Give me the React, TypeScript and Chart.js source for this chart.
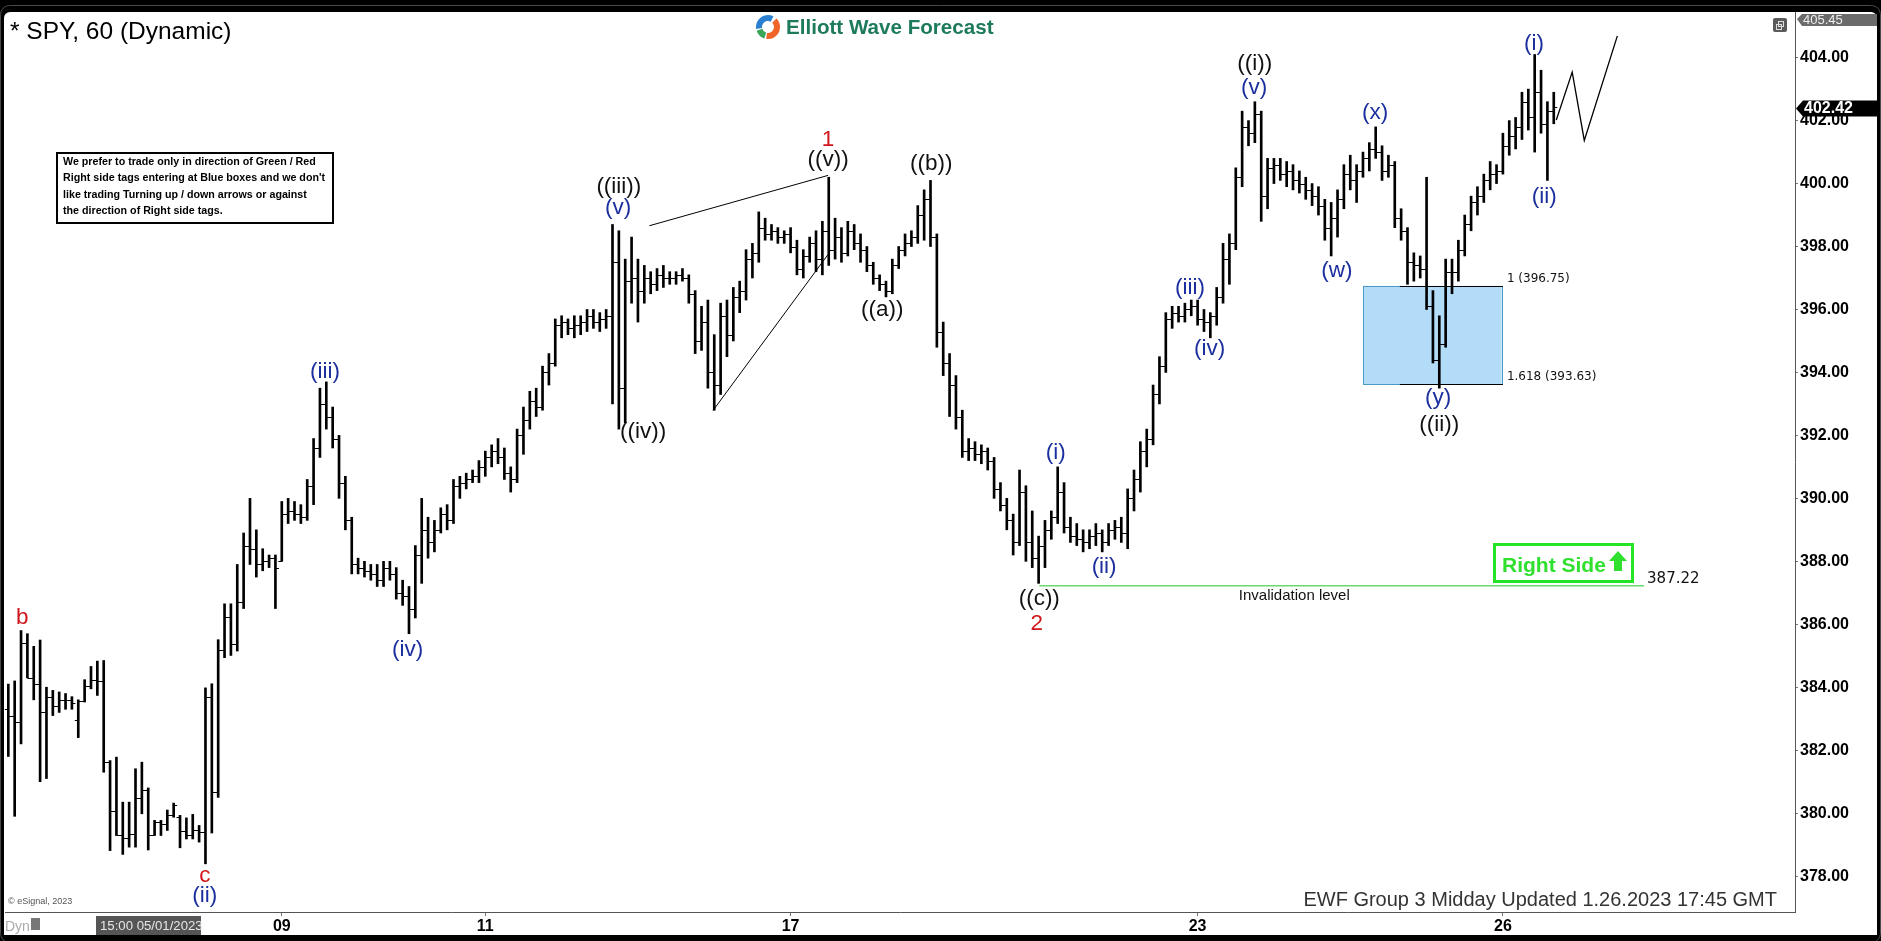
import React, { useEffect, useRef } from "react";
import { Chart, registerables } from "chart.js";

Chart.register(...registerables);

const W = 1881;
const H = 941;
const FONT = "'Liberation Sans', Arial, sans-serif";
const RED = "#d0161b";
const BLUE = "#1b2f9e";
const BLACK = "#111111";

// ---- axes ----
const dayTickBars = [43, 75, 123, 187, 235];
const dayTickLabels = ["09", "11", "17", "23", "26"];
const priceTicks = [378, 380, 382, 384, 386, 388, 390, 392, 394, 396, 398, 400, 402, 404];
const priceMin = 376.86;
const priceMax = 405.45;
const barMin = -0.52;
const barMax = 280.93;

// ---- 60 minute OHLC bars (Jan 4 .. Jan 26, 2023) ----
const opens = [
  383.3, 383.1, 382.9, 385.4, 384.3, 384.1, 383.2, 383.7, 383.4, 383.6, 383.6,
  382.95, 383.55, 384.03, 384.22, 384.19, 381.62, 380.06, 379.31, 379.22, 379.34, 380.49, 380.72, 379.31, 379.72, 379.65, 379.93,
  379.87, 379.42, 379.31, 379.47, 379.4, 383.69, 380.67, 385.19, 386.23, 385.38, 386.7, 388.5, 388.4, 387.9, 388.0, 388.1,
  388.0, 389.5, 389.6, 389.5, 389.4, 390.4, 391.6, 393.0, 392.6, 391.9, 390.5, 389.3, 387.9, 387.8, 387.7, 387.6,
  387.4, 387.8, 387.6, 387.0, 386.9, 386.5, 388.2, 389.0, 388.6, 389.0, 389.5, 389.3, 390.4, 390.5, 390.6, 390.7,
  391.0, 391.3, 391.5, 391.3, 390.8, 390.6, 392.0, 392.5, 393.1, 392.9, 394.0, 394.3, 395.5, 395.6, 395.4, 395.5,
  395.6, 395.8, 395.6, 395.7, 395.8, 397.5, 393.5, 396.9, 397.0, 396.6, 397.0, 396.8, 397.1, 397.0, 397.0, 397.1,
  397.0, 396.5, 395.0, 395.6, 394.0, 393.6, 395.8, 395.2, 396.4, 396.6, 397.6, 397.8, 398.6, 398.4, 398.5, 398.3,
  398.4, 398.0, 397.3, 397.7, 398.1, 397.6, 398.5, 397.9, 398.3, 397.8, 398.5, 398.1, 397.9, 397.4, 397.0, 396.8,
  396.6, 397.4, 397.9, 398.1, 398.3, 399.0, 399.5, 398.3, 395.3, 394.3, 393.6, 392.6, 391.5, 391.6, 391.4, 391.5,
  391.2, 390.3, 389.8, 389.3, 388.6, 390.2, 388.6, 388.1, 388.5, 389.0, 389.4, 390.2, 389.1, 388.8, 388.7, 388.6,
  388.8, 388.9, 388.6, 389.0, 389.1, 388.9, 390.0, 390.6, 391.5, 391.9, 393.3, 394.2, 395.7, 395.9, 395.8, 396.0,
  396.1, 395.7, 395.6, 395.8, 396.4, 397.6, 398.1, 400.2, 401.8, 401.6, 402.2, 399.6, 400.5, 400.6, 400.3, 400.4,
  400.1, 400.0, 399.8, 399.6, 399.3, 398.6, 398.9, 399.5, 400.3, 400.1, 400.4, 400.8, 401.1, 401.0, 400.4, 400.6,
  398.9, 398.5, 397.5, 397.4, 397.3, 396.1, 394.4, 394.9, 397.2, 397.2, 397.9, 398.7, 399.4, 399.6, 400.1, 400.3,
  400.4, 401.2, 401.5, 401.8, 402.6, 402.1, 402.9, 401.9, 402.3,
];
const highs = [
  384.1, 384.2, 385.8, 385.7, 385.3, 385.5, 384.0, 383.9, 383.85, 383.8, 383.7,
  383.6, 384.24, 384.66, 384.83, 384.85, 381.67, 381.78, 380.35, 380.35, 381.41, 381.62, 380.8, 379.77, 379.77, 380.1, 380.32,
  379.93, 379.85, 379.96, 379.61, 383.98, 384.11, 385.51, 386.65, 386.65, 387.9, 388.9, 390.0, 389.0, 388.4, 388.2, 388.2,
  389.9, 390.0, 389.9, 389.8, 390.6, 391.9, 393.5, 393.7, 392.9, 392.0, 390.7, 389.4, 388.1, 388.0, 387.9, 387.9,
  388.0, 388.0, 387.8, 387.4, 387.2, 388.5, 390.0, 389.4, 389.3, 389.7, 389.8, 390.6, 390.7, 390.8, 390.9, 391.2,
  391.5, 391.7, 391.9, 391.6, 391.0, 392.2, 392.9, 393.4, 393.5, 394.2, 394.6, 395.7, 395.8, 395.7, 395.8, 395.8,
  396.0, 396.0, 395.9, 396.0, 398.7, 398.5, 397.6, 398.3, 397.6, 397.4, 397.2, 397.3, 397.4, 397.2, 397.2, 397.3,
  397.1, 396.6, 396.1, 396.3, 395.2, 396.2, 396.3, 396.7, 396.9, 397.9, 398.1, 399.1, 398.9, 398.7, 398.6, 398.5,
  398.6, 398.2, 397.9, 398.3, 398.5, 398.8, 400.2, 398.9, 398.6, 398.8, 398.7, 398.4, 398.0, 397.5, 397.1, 396.9,
  397.6, 398.0, 398.4, 398.5, 399.3, 399.8, 400.1, 398.4, 395.6, 394.6, 393.9, 392.8, 391.9, 391.8, 391.7, 391.6,
  391.3, 390.5, 390.0, 389.5, 390.9, 390.4, 389.6, 388.8, 389.3, 389.6, 391.0, 390.5, 389.4, 389.2, 389.0, 389.0,
  389.2, 389.0, 389.2, 389.3, 389.4, 390.3, 390.9, 391.8, 392.2, 393.6, 394.5, 395.9, 396.1, 396.1, 396.2, 396.3,
  396.3, 396.0, 395.9, 396.7, 398.1, 398.4, 400.5, 402.3, 402.0, 402.6, 402.3, 400.8, 400.8, 400.8, 400.7, 400.6,
  400.4, 400.2, 400.0, 399.9, 399.5, 399.4, 399.8, 400.6, 400.9, 400.6, 401.0, 401.3, 401.8, 401.2, 400.9, 400.7,
  399.2, 398.6, 397.8, 397.7, 400.2, 396.6, 395.8, 397.6, 397.6, 398.2, 399.0, 399.6, 399.9, 400.3, 400.7, 400.6,
  401.6, 402.0, 402.1, 402.9, 403.0, 404.1, 403.6, 402.6, 402.9,
];
const lows = [
  381.8, 379.9, 382.2, 384.3, 383.6, 381.0, 381.1, 383.1, 383.2, 383.3, 383.3,
  382.4, 383.53, 383.95, 383.74, 381.3, 378.81, 379.29, 378.69, 378.92, 378.92, 379.98, 378.83, 379.29, 379.29, 379.45, 379.87,
  378.9, 379.18, 379.18, 379.08, 378.39, 379.37, 380.5, 384.94, 385.01, 385.15, 386.5, 387.9, 387.5, 387.7, 387.8, 386.5,
  388.0, 389.2, 389.3, 389.2, 389.3, 389.8, 391.3, 392.2, 391.6, 390.0, 389.0, 387.6, 387.6, 387.5, 387.4, 387.2,
  387.2, 387.4, 386.8, 386.6, 385.7, 386.2, 387.3, 388.1, 388.3, 388.9, 389.0, 389.2, 390.0, 390.3, 390.5, 390.5,
  390.7, 391.0, 391.1, 390.6, 390.2, 390.5, 391.4, 392.2, 392.6, 392.8, 393.6, 394.2, 395.1, 395.2, 395.1, 395.2,
  395.3, 395.4, 395.3, 395.4, 393.0, 392.2, 392.4, 396.2, 395.6, 396.2, 396.5, 396.6, 396.7, 396.8, 396.8, 396.9,
  396.2, 394.6, 394.7, 393.5, 392.8, 393.3, 394.5, 395.0, 395.9, 396.3, 397.0, 397.5, 398.2, 398.2, 398.1, 398.1,
  397.8, 397.1, 397.0, 397.5, 397.2, 397.1, 397.4, 397.6, 397.5, 397.7, 397.9, 397.5, 397.2, 396.8, 396.6, 396.4,
  396.5, 397.3, 397.7, 398.0, 398.1, 398.2, 398.0, 394.8, 393.9, 392.6, 392.2, 391.3, 391.2, 391.2, 391.1, 390.9,
  390.0, 389.6, 389.0, 388.2, 388.5, 388.0, 387.8, 387.3, 387.8, 388.7, 389.2, 388.9, 388.6, 388.5, 388.3, 388.4,
  388.5, 388.3, 388.5, 388.7, 388.6, 388.4, 389.6, 390.2, 391.0, 391.7, 393.0, 394.0, 395.4, 395.6, 395.6, 395.8,
  395.5, 395.3, 395.1, 395.5, 396.2, 396.8, 397.9, 399.9, 401.2, 401.3, 398.8, 399.2, 400.0, 400.1, 399.9, 399.8,
  399.7, 399.5, 399.3, 399.0, 398.2, 397.7, 398.3, 399.2, 399.8, 399.4, 400.2, 400.4, 400.8, 400.1, 400.2, 398.6,
  398.2, 396.8, 396.9, 397.0, 396.0, 394.3, 393.5, 394.8, 396.5, 396.9, 397.7, 398.5, 399.0, 399.4, 399.8, 400.0,
  400.3, 400.9, 401.1, 401.4, 401.7, 401.0, 401.6, 400.1, 401.9,
];
const closes = [
  383.1, 382.9, 385.4, 384.3, 384.1, 383.2, 383.7, 383.4, 383.6, 383.6, 383.5,
  383.55, 384.03, 384.22, 384.19, 381.62, 380.06, 379.31, 379.22, 379.34, 380.49, 380.72, 379.31, 379.72, 379.65, 379.93, 380.27,
  379.42, 379.31, 379.47, 379.4, 383.69, 380.67, 385.19, 386.23, 385.38, 386.7, 388.5, 388.4, 387.9, 388.0, 388.1, 387.8,
  389.5, 389.6, 389.5, 389.4, 390.4, 391.6, 393.0, 392.6, 391.9, 390.5, 389.3, 387.9, 387.8, 387.7, 387.6, 387.4,
  387.8, 387.6, 387.0, 386.9, 386.5, 388.2, 389.0, 388.6, 389.0, 389.5, 389.3, 390.4, 390.5, 390.6, 390.7, 391.0,
  391.3, 391.5, 391.3, 390.8, 390.6, 392.0, 392.5, 393.1, 392.9, 394.0, 394.3, 395.5, 395.6, 395.4, 395.5, 395.6,
  395.8, 395.6, 395.7, 395.8, 397.5, 393.5, 396.9, 397.0, 396.6, 397.0, 396.8, 397.1, 397.0, 397.0, 397.1, 397.0,
  396.5, 395.0, 395.6, 394.0, 393.6, 395.8, 395.2, 396.4, 396.6, 397.6, 397.8, 398.6, 398.4, 398.5, 398.3, 398.4,
  398.0, 397.3, 397.7, 398.1, 397.6, 398.5, 397.9, 398.3, 397.8, 398.5, 398.1, 397.9, 397.4, 397.0, 396.8, 396.6,
  397.4, 397.9, 398.1, 398.3, 399.0, 399.5, 398.3, 395.3, 394.3, 393.6, 392.6, 391.5, 391.6, 391.4, 391.5, 391.2,
  390.3, 389.8, 389.3, 388.6, 390.2, 388.6, 388.1, 388.5, 389.0, 389.4, 390.2, 389.1, 388.8, 388.7, 388.6, 388.8,
  388.9, 388.6, 389.0, 389.1, 388.9, 390.0, 390.6, 391.5, 391.9, 393.3, 394.2, 395.7, 395.9, 395.8, 396.0, 396.1,
  395.7, 395.6, 395.8, 396.4, 397.6, 398.1, 400.2, 401.8, 401.6, 402.2, 399.6, 400.5, 400.6, 400.3, 400.4, 400.1,
  400.0, 399.8, 399.6, 399.3, 398.6, 398.9, 399.5, 400.3, 400.1, 400.4, 400.8, 401.1, 401.0, 400.4, 400.6, 398.9,
  398.5, 397.5, 397.4, 397.3, 396.1, 394.4, 394.9, 397.2, 397.2, 397.9, 398.7, 399.4, 399.6, 400.1, 400.3, 400.4,
  401.2, 401.5, 401.8, 402.6, 402.1, 402.9, 401.9, 402.3, 402.42,
];

// ---- annotations (bar index, price) ----
const waveText = ["b", "c", "(ii)", "(iii)", "(iv)", "((iii))", "(v)", "((iv))", "1", "((v))", "((a))", "((b))", "(i)", "(ii)", "((c))", "2", "(iii)", "(iv)", "((i))", "(v)", "(w)", "(x)", "(y)", "((ii))", "(i)", "(ii)"];
const waveBar = [2.2, 30.9, 30.9, 49.8, 62.8, 96.0, 95.9, 99.8, 128.9, 128.9, 137.4, 145.1, 164.7, 172.3, 162.1, 161.7, 185.8, 188.9, 196.0, 195.9, 208.9, 214.9, 224.8, 225.0, 239.9, 241.5];
const wavePrice = [386.22, 378.02, 377.38, 394.01, 385.2, 399.89, 399.22, 392.1, 401.38, 400.75, 395.98, 400.62, 391.46, 387.84, 386.8, 386.03, 396.68, 394.74, 403.8, 403.03, 397.22, 402.24, 393.18, 392.35, 404.43, 399.57];
const waveColor = [RED, RED, BLUE, BLUE, BLUE, BLACK, BLUE, BLACK, RED, BLACK, BLACK, BLACK, BLUE, BLUE, BLACK, RED, BLUE, BLUE, BLACK, BLUE, BLUE, BLUE, BLUE, BLACK, BLUE, BLUE];

const projectionPath = [
  { x: 243.4, y: 402.02 },
  { x: 245.9, y: 403.54 },
  { x: 247.8, y: 401.37 },
  { x: 253.0, y: 404.69 },
];
const diagUpper = [
  { x: 100.8, y: 398.66 },
  { x: 128.9, y: 400.26 },
];
const diagLower = [
  { x: 110.8, y: 392.79 },
  { x: 128.9, y: 397.75 },
];
const invalidationPrice = 387.22;
const invalidationLine = [
  { x: 162.1, y: invalidationPrice },
  { x: 257.2, y: invalidationPrice },
];
const boxFromBar = 213.0;
const boxToBar = 234.8;
const fibFromBar = 218.8;
const fibToBar = 235.0;
const fib1 = 396.75;
const fib1618 = 393.63;
const lastPrice = 402.42;
const topPrice = 405.45;

const noteLines = [
  "We prefer to trade only in direction of Green / Red",
  "Right side tags entering at Blue boxes and we don't",
  "like trading Turning up / down arrows or against",
  "the direction of Right side tags.",
];

const decor = {
  id: "decor",
  beforeDraw(chart: any) {
    const ctx = chart.ctx as CanvasRenderingContext2D;
    ctx.save();
    ctx.fillStyle = "#000";
    ctx.fillRect(0, 0, W, H);
    ctx.strokeStyle = "#4a4a4a";
    ctx.lineWidth = 1;
    ctx.beginPath();
    (ctx as any).roundRect(0.5, 5.5, W - 1, H - 4, 9);
    ctx.stroke();
    ctx.fillStyle = "#fff";
    ctx.beginPath();
    (ctx as any).roundRect(4, 12, 1873, 923, [6, 6, 0, 0]);
    ctx.fill();
    ctx.restore();
  },
  beforeDatasetsDraw(chart: any) {
    const ctx = chart.ctx as CanvasRenderingContext2D;
    const xs = chart.scales.x;
    const ys = chart.scales.y;
    const x0 = xs.getPixelForValue(boxFromBar);
    const x1 = xs.getPixelForValue(boxToBar);
    const y0 = ys.getPixelForValue(fib1);
    const y1 = ys.getPixelForValue(fib1618);
    ctx.save();
    ctx.fillStyle = "#b3dcf8";
    ctx.fillRect(x0, y0, x1 - x0, y1 - y0);
    ctx.strokeStyle = "#4a9ac4";
    ctx.lineWidth = 1;
    ctx.strokeRect(Math.round(x0) + 0.5, Math.round(y0) + 0.5, Math.round(x1 - x0), Math.round(y1 - y0));
    ctx.strokeStyle = "#000";
    ctx.lineWidth = 1.2;
    const fx0 = xs.getPixelForValue(fibFromBar);
    const fx1 = xs.getPixelForValue(fibToBar);
    ctx.beginPath();
    ctx.moveTo(fx0, Math.round(y0) + 0.5);
    ctx.lineTo(fx1, Math.round(y0) + 0.5);
    ctx.moveTo(fx0, Math.round(y1) + 0.5);
    ctx.lineTo(fx1, Math.round(y1) + 0.5);
    ctx.stroke();
    ctx.fillStyle = "#111";
    ctx.font = "12px 'DejaVu Sans', sans-serif";
    ctx.textBaseline = "bottom";
    ctx.textAlign = "left";
    ctx.fillText(`1 (${fib1.toFixed(2)})`, fx1 + 4, y0 - 1);
    ctx.fillText(`1.618 (${fib1618.toFixed(2)})`, fx1 + 4, y1 - 1);
    ctx.restore();
  },
  afterDatasetsDraw(chart: any) {
    const ctx = chart.ctx as CanvasRenderingContext2D;
    const xs = chart.scales.x;
    const ys = chart.scales.y;
    ctx.save();
    ctx.strokeStyle = "#000";
    ctx.lineWidth = 1;
    ctx.beginPath();
    for (let i = 0; i < closes.length; i++) {
      const x = xs.getPixelForValue(i);
      const yo = Math.round(ys.getPixelForValue(opens[i])) + 0.5;
      const yc = Math.round(ys.getPixelForValue(closes[i])) + 0.5;
      ctx.moveTo(x - 3.5, yo);
      ctx.lineTo(x, yo);
      ctx.moveTo(x, yc);
      ctx.lineTo(x + 3.5, yc);
    }
    ctx.stroke();
    ctx.restore();
  },
  afterDraw(chart: any) {
    const ctx = chart.ctx as CanvasRenderingContext2D;
    const xs = chart.scales.x;
    const ys = chart.scales.y;
    ctx.save();

    // wave labels
    ctx.textAlign = "center";
    ctx.textBaseline = "middle";
    ctx.font = `22.5px ${FONT}`;
    for (let k = 0; k < waveText.length; k++) {
      ctx.fillStyle = waveColor[k];
      ctx.fillText(waveText[k], xs.getPixelForValue(waveBar[k]), ys.getPixelForValue(wavePrice[k]));
    }

    // invalidation texts
    const yInv = ys.getPixelForValue(invalidationPrice);
    ctx.fillStyle = "#111";
    ctx.font = `15px ${FONT}`;
    ctx.textBaseline = "top";
    ctx.fillText("Invalidation level", xs.getPixelForValue(202.2), yInv + 2);
    ctx.textAlign = "left";
    ctx.textBaseline = "middle";
    ctx.font = "15px 'DejaVu Sans', sans-serif";
    ctx.fillText(invalidationPrice.toFixed(2), xs.getPixelForValue(invalidationLine[1].x) + 3, yInv - 7);

    // Right Side tag
    ctx.strokeStyle = "#25e325";
    ctx.lineWidth = 3;
    ctx.strokeRect(1494.5, 544.5, 138, 37);
    ctx.fillStyle = "#2fe02f";
    ctx.font = `bold 21px ${FONT}`;
    ctx.textBaseline = "alphabetic";
    ctx.fillText("Right Side", 1502, 572);
    ctx.beginPath();
    ctx.moveTo(1618, 551);
    ctx.lineTo(1627, 561);
    ctx.lineTo(1622, 561);
    ctx.lineTo(1622, 571);
    ctx.lineTo(1614, 571);
    ctx.lineTo(1614, 561);
    ctx.lineTo(1609, 561);
    ctx.closePath();
    ctx.fill();

    // title
    ctx.fillStyle = "#000";
    ctx.font = `24.5px ${FONT}`;
    ctx.fillText("* SPY, 60 (Dynamic)", 10, 39);

    // logo
    const cx = 768, cy = 27;
    ctx.lineWidth = 6;
    ctx.strokeStyle = "#2a7fd0";
    ctx.beginPath(); ctx.arc(cx, cy, 9, Math.PI * 0.95, Math.PI * 1.65); ctx.stroke();
    ctx.strokeStyle = "#f0642a";
    ctx.beginPath(); ctx.arc(cx, cy, 9, Math.PI * 1.75, Math.PI * 2.55); ctx.stroke();
    ctx.strokeStyle = "#3aa55a";
    ctx.beginPath(); ctx.arc(cx, cy, 9, Math.PI * 0.6, Math.PI * 0.9); ctx.stroke();
    ctx.fillStyle = "#1d7b5c";
    ctx.font = `bold 20.6px ${FONT}`;
    ctx.fillText("Elliott Wave Forecast", 786, 34);

    // note box
    ctx.strokeStyle = "#000";
    ctx.lineWidth = 2;
    ctx.strokeRect(57, 153, 276, 70);
    ctx.fillStyle = "#000";
    ctx.font = `bold 10.7px ${FONT}`;
    noteLines.forEach((t, k) => ctx.fillText(t, 63, 165 + k * 16.4));

    // window icon
    ctx.fillStyle = "#5a5a5a";
    ctx.beginPath();
    (ctx as any).roundRect(1773, 18, 14, 14, 2);
    ctx.fill();
    ctx.strokeStyle = "#ddd";
    ctx.lineWidth = 1;
    ctx.strokeRect(1778.5, 21.5, 5, 5);
    ctx.strokeRect(1776.5, 24.5, 5, 5);

    // footer
    ctx.fillStyle = "#333";
    ctx.font = `20px ${FONT}`;
    ctx.textAlign = "right";
    ctx.fillText("EWF Group 3 Midday Updated 1.26.2023 17:45 GMT", 1777, 906);
    ctx.textAlign = "left";
    ctx.fillStyle = "#555";
    ctx.font = `9px ${FONT}`;
    ctx.fillText("\u00a9 eSignal, 2023", 8, 904);
    ctx.fillStyle = "#aaa";
    ctx.font = `14px ${FONT}`;
    ctx.fillText("Dyn", 5, 931);
    ctx.fillStyle = "#777";
    ctx.fillRect(31, 918, 9, 12);
    ctx.fillStyle = "#555";
    ctx.fillRect(96, 916, 105, 19);
    ctx.fillStyle = "#e6e6e6";
    ctx.font = `13.2px ${FONT}`;
    ctx.fillText("15:00 05/01/2023", 100, 930);

    // axis price markers
    const yTop = ys.getPixelForValue(topPrice);
    ctx.fillStyle = "#6b6b6b";
    ctx.beginPath();
    ctx.moveTo(1797, yTop + 7);
    ctx.lineTo(1802, yTop + 2);
    ctx.lineTo(1877, yTop + 2);
    ctx.lineTo(1877, yTop + 14);
    ctx.lineTo(1802, yTop + 14);
    ctx.closePath();
    ctx.fill();
    ctx.fillStyle = "#eee";
    ctx.font = `13px ${FONT}`;
    ctx.textBaseline = "middle";
    ctx.fillText(topPrice.toFixed(2), 1803, yTop + 8.5);

    const yLast = ys.getPixelForValue(lastPrice);
    ctx.fillStyle = "#000";
    ctx.beginPath();
    ctx.moveTo(1796, yLast + 1);
    ctx.lineTo(1803, yLast - 7);
    ctx.lineTo(1877, yLast - 7);
    ctx.lineTo(1877, yLast + 9);
    ctx.lineTo(1803, yLast + 9);
    ctx.closePath();
    ctx.fill();
    ctx.fillStyle = "#fff";
    ctx.font = `bold 16px ${FONT}`;
    ctx.fillText(lastPrice.toFixed(2), 1804, yLast + 1);

    ctx.restore();
  },
};

export default function App() {
  const ref = useRef<HTMLCanvasElement>(null);
  useEffect(() => {
    document.body.style.margin = "0";
    const canvas = ref.current!;
    const barData = highs.map((h, i) => ({ x: i, y: [lows[i], h] }));
    const lineDs = (data: any[], color: string, width: number) => ({
      type: "line" as const,
      data,
      borderColor: color,
      borderWidth: width,
      pointRadius: 0,
      fill: false,
      tension: 0,
      order: 1,
    });
    const chart = new Chart(canvas, {
      type: "bar",
      data: {
        datasets: [
          {
            type: "bar",
            label: "SPY",
            data: barData as any,
            backgroundColor: "#000",
            barThickness: 2,
            borderWidth: 0,
            order: 2,
          } as any,
          lineDs(invalidationLine, "#6ad86a", 1.5),
          lineDs(diagUpper, "#000", 1),
          lineDs(diagLower, "#000", 1),
          lineDs(projectionPath, "#000", 1.3),
        ],
      },
      options: {
        responsive: false,
        animation: false,
        devicePixelRatio: 1,
        events: [],
        layout: { padding: { left: 5, top: 12, right: 4, bottom: 6 } },
        plugins: { legend: { display: false }, tooltip: { enabled: false } },
        scales: {
          x: {
            type: "linear",
            min: barMin,
            max: barMax,
            offset: false,
            position: "bottom",
            afterBuildTicks: (s: any) => {
              s.ticks = dayTickBars.map((v) => ({ value: v }));
            },
            afterFit: (s: any) => {
              s.height = 23;
            },
            ticks: {
              autoSkip: false,
              maxRotation: 0,
              padding: 1,
              color: "#000",
              font: { family: FONT, size: 16, weight: "bold" },
              callback: (v: any) => {
                const k = dayTickBars.indexOf(Number(v));
                return k >= 0 ? dayTickLabels[k] : "";
              },
            },
            grid: { drawOnChartArea: false, drawTicks: true, tickLength: 4, color: "#777", offset: false },
            border: { display: true, color: "#555" },
          },
          y: {
            type: "linear",
            position: "right",
            min: priceMin,
            max: priceMax,
            afterBuildTicks: (s: any) => {
              s.ticks = priceTicks.map((v) => ({ value: v }));
            },
            afterFit: (s: any) => {
              s.width = 82;
            },
            ticks: {
              padding: 2,
              color: "#000",
              font: { family: FONT, size: 16, weight: "bold" },
              callback: (v: any) => Number(v).toFixed(2),
            },
            grid: { drawOnChartArea: false, drawTicks: true, tickLength: 3, color: "#777" },
            border: { display: true, color: "#555" },
          },
        },
      } as any,
      plugins: [decor],
    });
    return () => chart.destroy();
  }, []);
  return (
    <div style={{ width: W, height: H }}>
      <canvas ref={ref} width={W} height={H} style={{ display: "block", width: W, height: H }} />
    </div>
  );
}
